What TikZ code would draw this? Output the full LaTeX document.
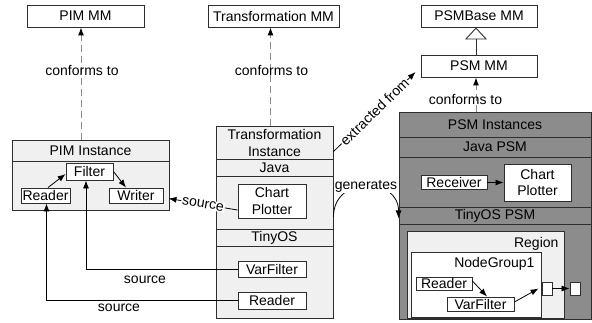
\documentclass[tikz,border=0pt]{standalone}
\usepackage{fontspec}
\setmainfont{Liberation Sans}
\usetikzlibrary{arrows.meta,calc}
\definecolor{linec}{HTML}{2E2E2E}
\definecolor{paleg}{HTML}{F0F0F0}
\definecolor{darkg}{HTML}{8C8C8C}
\definecolor{dashg}{HTML}{8A8A8A}
\begin{document}
\begin{tikzpicture}[x=1pt,y=-1pt,
  every node/.style={font=\fontsize{14pt}{16.5pt}\selectfont},
  bx/.style={draw=linec, fill=white, line width=0.9pt, inner sep=0pt, align=center},
  cont/.style={draw=linec, line width=0.9pt, inner sep=0pt},
  sep/.style={draw=linec, line width=0.9pt},
  arr/.style={draw=black, line width=0.8pt, -{Latex[length=8pt,width=6pt]}},
  conf/.style={draw=dashg, line width=1pt, dash pattern=on 7pt off 4pt, -{Latex[length=8pt,width=6pt,color=black]}},
  lblw/.style={fill=white, inner sep=1pt}
]
\useasboundingbox (0,0) rectangle (592,323);

% ---- metamodels ----
\node[bx, minimum width=117pt, minimum height=22pt] (pimmm) at (85.5,16) {PIM MM};
\node[bx, minimum width=131pt, minimum height=22pt] (trmm) at (273.5,16) {Transformation MM};
\node[bx, minimum width=116pt, minimum height=22pt] (psmbase) at (479,16) {PSMBase MM};
\node[bx, minimum width=116pt, minimum height=22pt] (psmmm) at (479,66) {PSM MM};

% ---- PIM instance ----
\node[cont, fill=paleg, minimum width=157pt, minimum height=70pt] (piminst) at (90.5,175) {};
\draw[sep] (12,161) -- (169,161);
\node (pimhead) at (90.5,150.5) {PIM Instance};
\node[bx, minimum width=47pt, minimum height=17pt] (filter) at (89.5,171.5) {Filter};
\node[bx, minimum width=49pt, minimum height=15pt] (reader) at (45.5,195.5) {Reader};
\node[bx, minimum width=54pt, minimum height=15pt] (writer) at (136,195.5) {Writer};
\draw[arr] ([xshift=2.5pt]reader.north) -- ([yshift=-2.5pt]filter.west);
\draw[arr] (filter.east) -- ([xshift=-10pt]writer.north);

% ---- transformation instance ----
\node[cont, fill=paleg, minimum width=117pt, minimum height=192pt] (tinst) at (274.5,222) {};
\draw[sep] (216,159) -- (333,159);
\draw[sep] (216,176) -- (333,176);
\draw[sep] (216,229) -- (333,229);
\draw[sep] (216,246) -- (333,246);
\node[align=center] (thead) at (274.5,143) {Transformation\\Instance};
\node (tjava) at (274.5,167.5) {Java};
\node (ttiny) at (274.5,237.5) {TinyOS};
\node[bx, minimum width=68pt, minimum height=34pt] (tchart) at (272,201) {Chart\\Plotter};
\node[bx, minimum width=68pt, minimum height=16pt] (tvarf) at (272,269) {VarFilter};
\node[bx, minimum width=68pt, minimum height=17pt] (treader) at (272,300.5) {Reader};

% ---- PSM instances ----
\node[cont, fill=darkg, minimum width=192pt, minimum height=207pt] (psminst) at (495,215.5) {};
\draw[sep] (399,137) -- (591,137);
\draw[sep] (399,157) -- (591,157);
\draw[sep] (399,207) -- (591,207);
\draw[sep] (399,224) -- (591,224);
\node (psmhead) at (495,124.5) {PSM Instances};
\node (pjava) at (495,147) {Java PSM};
\node (ptiny) at (495,215.5) {TinyOS PSM};
\node[bx, minimum width=66pt, minimum height=14pt] (preceiver) at (454,182.5) {Receiver};
\node[bx, minimum width=67pt, minimum height=37pt] (pchart) at (537.5,182.5) {Chart\\Plotter};
\draw[arr] (preceiver.east) -- (pchart.west);

\node[cont, fill=paleg, minimum width=157pt, minimum height=87pt] (region) at (485.5,274.5) {};
\node[anchor=east] (reglbl) at (562,243.5) {Region};
\node[cont, fill=white, minimum width=130pt, minimum height=65pt] (ngroup) at (476,284.5) {};
\node[anchor=east] (nglbl) at (538,264) {NodeGroup1};
\node[bx, minimum width=56pt, minimum height=13pt] (preader) at (444,283.5) {Reader};
\node[bx, minimum width=67pt, minimum height=14pt] (pvarf) at (480.5,304) {VarFilter};
\node[bx, minimum width=10pt, minimum height=13pt] (port1) at (547,288.5) {};
\node[bx, minimum width=10pt, minimum height=13pt] (port2) at (575,288.5) {};
\draw[arr] ([yshift=2.5pt]preader.east) -- ([xshift=6.5pt]pvarf.north);
\draw[arr] ([yshift=2pt]pvarf.east) -- ([xshift=-3pt]port1.west);
\draw[arr] (port1.east) -- (port2.west);

% ---- conforms to ----
\draw[conf] ([xshift=-9.5pt]piminst.north) -- ([xshift=-4.5pt]pimmm.south);
\node (conf1) at (82,71) {conforms to};
\draw[conf] ([xshift=-4pt]tinst.north) -- ([xshift=-3pt]trmm.south);
\node (conf2) at (271.5,71) {conforms to};
\draw[conf] ([xshift=-19pt]psminst.north) -- ([xshift=-3pt]psmmm.south);
\node (conf3) at (465.5,100) {conforms to};

% ---- inheritance ----
\draw[draw=linec, line width=0.9pt, -{Triangle[open,length=12pt,width=22pt,fill=white]}]
  ([xshift=-3pt]psmmm.north) -- ([xshift=-3pt]psmbase.south);

% ---- source links ----
\draw[arr] (tvarf.west) -| ([xshift=-3.5pt]filter.south);
\node (src1) at (145,279.5) {source};
\draw[arr] (treader.west) -| ([xshift=1pt]reader.south);
\node (src2) at (119,308) {source};
\draw[arr] ([yshift=-9pt]tchart.west) -- ([xshift=5pt,yshift=-3pt]writer.east)
  node[midway, sloped, lblw] (src3) {source};

% ---- extracted from / generates ----
\draw[arr] ([yshift=-26pt]tinst.north east) -- ([xshift=-5pt,yshift=-6pt]psmmm.west)
  node[midway, sloped, lblw] (extr) {extracted from};
\draw[arr] ([yshift=5pt]tinst.east) .. controls +(0,-42) and +(0,-42) .. ([yshift=-3pt]psminst.west)
  node[pos=0.5, lblw] (gen) {generates};
\end{tikzpicture}
\end{document}
